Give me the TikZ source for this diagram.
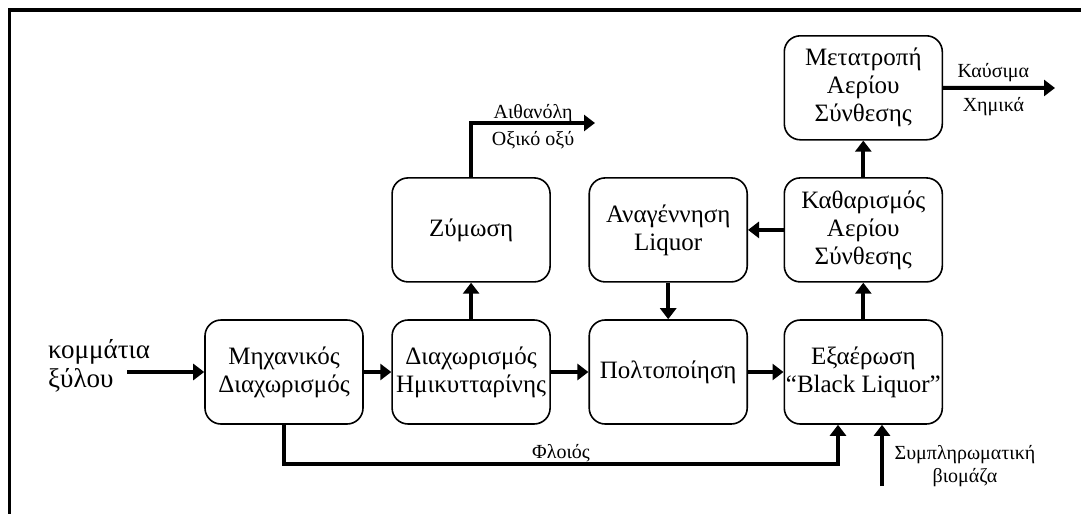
\documentclass[tikz,border=0pt]{standalone}
\usepackage{fontspec}
\setmainfont{Liberation Serif}
\usepackage{tikz}
\usetikzlibrary{arrows.meta,positioning}
\usepackage{xcolor}
\definecolor{ink}{RGB}{0,0,0}
\newcommand{\boxfont}{\fontsize{25}{28}\selectfont}
\newcommand{\lblfont}{\fontsize{20}{23}\selectfont}
\newcommand{\woodfont}{\fontsize{27}{29}\selectfont}
\tikzset{
  proc/.style={draw=ink,line width=1.6pt,rounded corners=16pt,minimum width=158pt,
    minimum height=104pt,inner sep=1pt,align=center,font=\boxfont},
  flow/.style={-{Triangle[length=11pt,width=16pt]},line width=4pt,ink},
  lbl/.style={font=\lblfont,inner sep=0pt,align=center},
  frame/.style={line width=3.5pt,ink},
}

\begin{document}
\begin{tikzpicture}[x=1pt,y=-1pt]
  \useasboundingbox (0,0) rectangle (1081,514);
  \draw[frame] (1081,10) -- (9.5,10) -- (9.5,514);
  % main line
  \node[proc] (mech) at (284,372) {Μηχανικός\\Διαχωρισμός};
  \node[proc,right=27.5pt of mech] (hemi) {Διαχωρισμός\\Ημικυτταρίνης};
  \node[proc,above=36.5pt of hemi] (ferm) {Ζύμωση};
  \node[proc,right=37.5pt of hemi] (pulp) {Πολτοποίηση};
  \node[proc,above=36.5pt of pulp] (regen) {Αναγέννηση\\Liquor};
  \node[proc,right=35.5pt of pulp] (gasif) {Εξαέρωση\\“Black Liquor”};
  \node[proc,above=36.5pt of gasif] (clean) {Καθαρισμός\\Αερίου\\Σύνθεσης};
  \node[proc,above=36.5pt of clean] (conv) {Μετατροπή\\Αερίου\\Σύνθεσης};
  % inputs and outputs
  \node[font=\woodfont,align=left,anchor=west,inner sep=0pt] (wood) at (48,366) {κομμάτια\\ξύλου};
  \coordinate (woodin) at (127,372);
  \coordinate (fermout) at (595,123);
  \coordinate (convout) at (1055,88);
  \coordinate (barkbend) at (838,464);
  \coordinate (bioin) at (882,486);
  \node[lbl] (bio) at (965,466) {Συμπληρωματική\\βιομάζα};

  \draw[flow] (woodin) -- (mech);
  \draw[flow] (mech) -- (hemi);
  \draw[flow] (hemi) -- (pulp);
  \draw[flow] (pulp) -- (gasif);
  \draw[flow] (hemi) -- (ferm);
  \draw[flow] (gasif) -- (clean);
  \draw[flow] (clean) -- (conv);
  \draw[flow] (clean) -- (regen);
  \draw[flow] (regen) -- (pulp);
  \draw[flow] (ferm.north) |- (fermout)
    node[lbl,anchor=base,pos=0.75,yshift=5pt] {Αιθανόλη}
    node[lbl,anchor=base,pos=0.75,yshift=-22pt] {Οξικό οξύ};
  \draw[flow] (conv) -- (convout)
    node[lbl,anchor=base,pos=0.45,yshift=10pt] {Καύσιμα}
    node[lbl,anchor=base,pos=0.45,yshift=-24pt] {Χημικά};
  \draw[flow] (mech.south) |- (barkbend)
    node[lbl,anchor=base,pos=0.75,yshift=6pt] {Φλοιός}
    -- (barkbend |- gasif.south);
  \draw[flow] (bioin) -- (bioin |- gasif.south);
\end{tikzpicture}
\end{document}
